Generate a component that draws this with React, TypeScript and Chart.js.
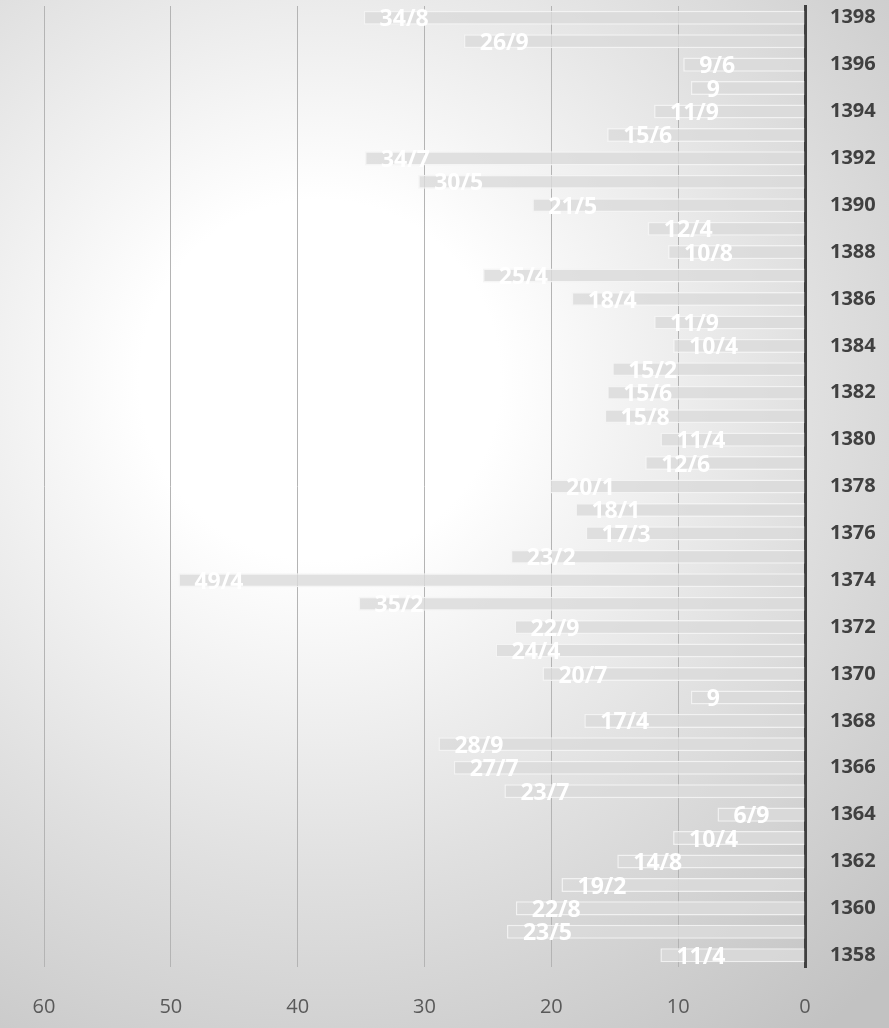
import React, { useEffect, useRef } from "react";
import { Chart, registerables } from "chart.js";

Chart.register(...registerables);

const years: string[] = [
  "1398", "1397", "1396", "1395", "1394", "1393", "1392", "1391", "1390", "1389",
  "1388", "1387", "1386", "1385", "1384", "1383", "1382", "1381", "1380", "1379",
  "1378", "1377", "1376", "1375", "1374", "1373", "1372", "1371", "1370", "1369",
  "1368", "1367", "1366", "1365", "1364", "1363", "1362", "1361", "1360", "1359",
  "1358",
];

const inflation: number[] = [
  34.8, 26.9, 9.6, 9, 11.9, 15.6, 34.7, 30.5, 21.5, 12.4,
  10.8, 25.4, 18.4, 11.9, 10.4, 15.2, 15.6, 15.8, 11.4, 12.6,
  20.1, 18.1, 17.3, 23.2, 49.4, 35.2, 22.9, 24.4, 20.7, 9,
  17.4, 28.9, 27.7, 23.7, 6.9, 10.4, 14.8, 19.2, 22.8, 23.5,
  11.4,
];

const xMin = 0;
const xMax = 60;
const xStep = 10;

const fmt = (v: number) => String(v).replace(".", "/");

const backgroundPlugin = {
  id: "bgGradient",
  beforeDraw(chart: any) {
    const { ctx, width, height } = chart;
    ctx.save();
    const g = ctx.createRadialGradient(320, 380, 0, 320, 380, 820);
    g.addColorStop(0, "#ffffff");
    g.addColorStop(0.22, "#ffffff");
    g.addColorStop(0.6, "#e0e0e0");
    g.addColorStop(1, "#c2c2c2");
    ctx.fillStyle = g;
    ctx.fillRect(0, 0, width, height);
    ctx.restore();
  },
};

const labelPlugin = {
  id: "barLabels",
  afterDatasetsDraw(chart: any) {
    const { ctx } = chart;
    const meta = chart.getDatasetMeta(0);
    ctx.save();
    ctx.font = "bold 23px 'Open Sans'";
    ctx.fillStyle = "#ffffff";
    ctx.textAlign = "left";
    ctx.textBaseline = "middle";
    meta.data.forEach((el: any, i: number) => {
      ctx.fillText(fmt(inflation[i]), el.x + 16, el.y + 2);
    });
    ctx.restore();
  },
};

export default function App() {
  const ref = useRef<HTMLCanvasElement>(null);

  useEffect(() => {
    document.body.style.margin = "0";
    if (!ref.current) return;
    const chart = new Chart(ref.current, {
      type: "bar",
      data: {
        labels: years,
        datasets: [
          {
            data: inflation,
            backgroundColor: "rgba(218,218,218,0.82)",
            borderColor: "rgba(244,244,244,0.9)",
            borderWidth: 1.5,
            barPercentage: 0.6,
            categoryPercentage: 1,
          },
        ],
      },
      options: {
        indexAxis: "y",
        animation: false,
        responsive: false,
        maintainAspectRatio: false,
        layout: { padding: { left: 44, top: 6, right: 0, bottom: 0 } },
        plugins: {
          legend: { display: false },
          tooltip: { enabled: false },
        },
        scales: {
          x: {
            type: "linear",
            reverse: true,
            min: xMin,
            max: xMax,
            ticks: {
              stepSize: xStep,
              padding: 28,
              color: "#595959",
              font: { family: "'Open Sans'", size: 20 },
            },
            grid: {
              color: "#b4b4b4",
              lineWidth: 1,
              drawTicks: false,
            },
            border: { display: false },
            afterFit: (s: any) => {
              s.height = 61;
              s.paddingLeft = 0;
              s.paddingRight = 0;
            },
          },
          y: {
            type: "category",
            position: "right",
            grid: { display: false, drawTicks: false },
            border: { display: true, color: "#404040", width: 3 },
            ticks: {
              autoSkip: false,
              padding: 25,
              color: "#404040",
              font: { family: "'Open Sans'", size: 20, weight: "bold" },
              callback: (_v: any, i: number) => (i % 2 === 0 ? years[i] : ""),
            },
            afterFit: (s: any) => {
              s.width = 84;
              s.paddingTop = 0;
              s.paddingBottom = 0;
            },
          },
        },
      },
      plugins: [backgroundPlugin, labelPlugin],
    });
    return () => chart.destroy();
  }, []);

  return (
    <div style={{ position: "absolute", left: 0, top: 0, width: 889, height: 1028 }}>
      <canvas ref={ref} width={889} height={1028} style={{ display: "block" }} />
    </div>
  );
}
